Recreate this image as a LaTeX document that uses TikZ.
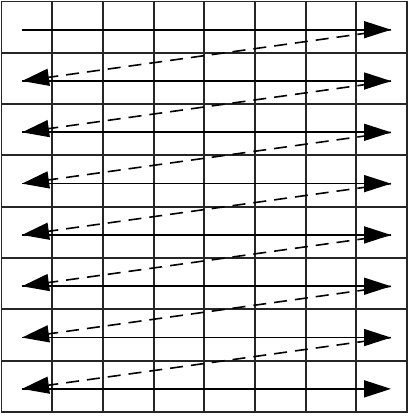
\documentclass[tikz,border=0pt]{standalone}
\usepackage{tikz}
\usetikzlibrary{arrows.meta}
\tikzset{
  scan grid/.style={black!85,line width=1.9bp,line cap=rect},
  scan row/.style={line width=1.7bp,-{Triangle[length=27bp,width=17bp]}},
  scan return/.style={line width=1.6bp,dash pattern=on 13bp off 8bp,-{Triangle[length=27bp,width=17bp]}}
}

\begin{document}
\begin{tikzpicture}[x=1bp,y=-1bp]
  \useasboundingbox (0,0) rectangle (409,416);
  % cells
  \foreach \i in {0,...,8} {
    \draw[scan grid] ({1.5+50.69*\i},1.5) -- ({1.5+50.69*\i},412);
    \draw[scan grid] (1.5,{1.5+51.31*\i}) -- (407,{1.5+51.31*\i});
  }
  % scan lines
  \foreach \k in {1,...,8} {
    \coordinate (L\k) at (22,{29.7+51.31*(\k-1)});
    \coordinate (R\k) at (391,{29.7+51.31*(\k-1)});
    \draw[scan row] (L\k) -- (R\k);
  }
  % fly-back
  \foreach \n [remember=\n as \k (initially 1)] in {2,...,8}
    \draw[scan return] (R\k) -- (L\n);
\end{tikzpicture}
\end{document}
